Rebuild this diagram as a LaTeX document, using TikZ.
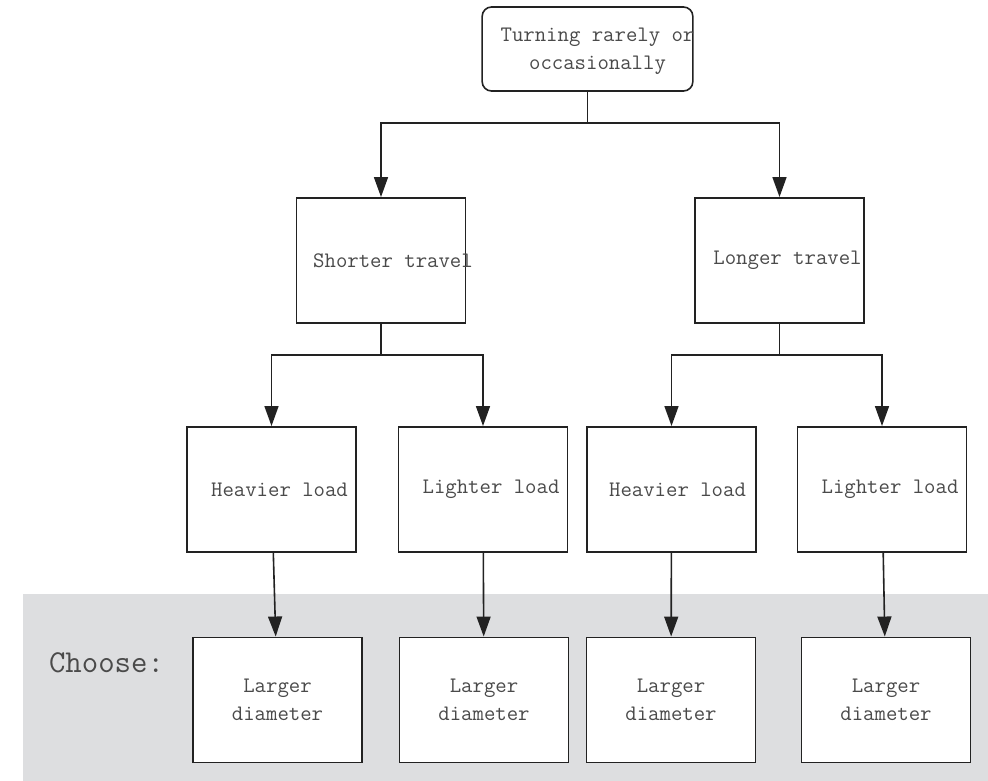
\documentclass[tikz,border=0pt]{standalone}
\usepackage{tikz}
\usetikzlibrary{arrows.meta}
\definecolor{bandgray}{HTML}{DDDEE0}
\definecolor{txtgray}{HTML}{4A4A4A}
\definecolor{linedark}{HTML}{222222}
\tikzset{
 box/.style={draw=linedark,line width=1.2pt,fill=white,inner sep=0pt,
   minimum width=126.5pt,minimum height=94pt},
 lbl/.style={font=\fontsize{16.6}{21}\selectfont\ttfamily,text=txtgray,
   align=center,inner sep=0pt},
 choose/.style={font=\fontsize{23.9}{28}\selectfont\ttfamily,text=txtgray,inner sep=0pt},
 line/.style={line width=1.2pt,draw=linedark},
 arrow/.style={line,-{Triangle[length=15pt,width=10.5pt]}}
}
\begin{document}
\begin{tikzpicture}[x=0.75pt,y=-0.75pt]
 \useasboundingbox (0,0) rectangle (988,781);
 \fill[bandgray] (23,594) rectangle (988,781);
 \node[choose] (choose) at (106.5,663) {Choose:};
 % question
 \node[box,rounded corners=7pt,minimum width=158pt,minimum height=63pt,
   label={[lbl,xshift=7.5pt,yshift=-2pt]center:Turning rarely or\\occasionally}] (turn) at (587.5,49) {};
 % travel
 \node[box,label={[lbl,xshift=9pt]center:Shorter travel}] (shorter) at (381,260.5) {};
 \node[box,label={[lbl,xshift=6pt]center:Longer travel}] (longer) at (779.5,260.5) {};
 % load
 \node[box,label={[lbl,xshift=6pt]center:Heavier load}] (heavyA) at (271.5,489.5) {};
 \node[box,label={[lbl,xshift=6pt]center:Lighter load}] (lightA) at (483,489.5) {};
 \node[box,label={[lbl,xshift=4.5pt]center:Heavier load}] (heavyB) at (671.5,489.5) {};
 \node[box,label={[lbl,xshift=6pt]center:Lighter load}] (lightB) at (882,489.5) {};
 % choice
 \node[box,label={[lbl]center:Larger\\diameter}] (largeA) at (277.5,700) {};
 \node[box,label={[lbl]center:Larger\\diameter}] (largeB) at (484,700) {};
 \node[box,label={[lbl]center:Larger\\diameter}] (largeC) at (671,700) {};
 \node[box,label={[lbl]center:Larger\\diameter}] (largeD) at (886,700) {};
 % connectors
 \coordinate (split) at (587.5,123);
 \coordinate (splitA) at (381,355);
 \coordinate (splitB) at (779.5,355);
 \draw[line] (turn) -- (split);
 \draw[arrow] (split) -| (shorter);
 \draw[arrow] (split) -| (longer);
 \draw[line] (shorter) -- (splitA);
 \draw[arrow] (splitA) -| (heavyA);
 \draw[arrow] (splitA) -| (lightA);
 \draw[line] (longer) -- (splitB);
 \draw[arrow] (splitB) -| (heavyB);
 \draw[arrow] (splitB) -| (lightB);
 \draw[arrow] (heavyA) -- (largeA);
 \draw[arrow] (lightA) -- (largeB);
 \draw[arrow] (heavyB) -- (largeC);
 \draw[arrow] (lightB) -- (largeD);
\end{tikzpicture}
\end{document}
